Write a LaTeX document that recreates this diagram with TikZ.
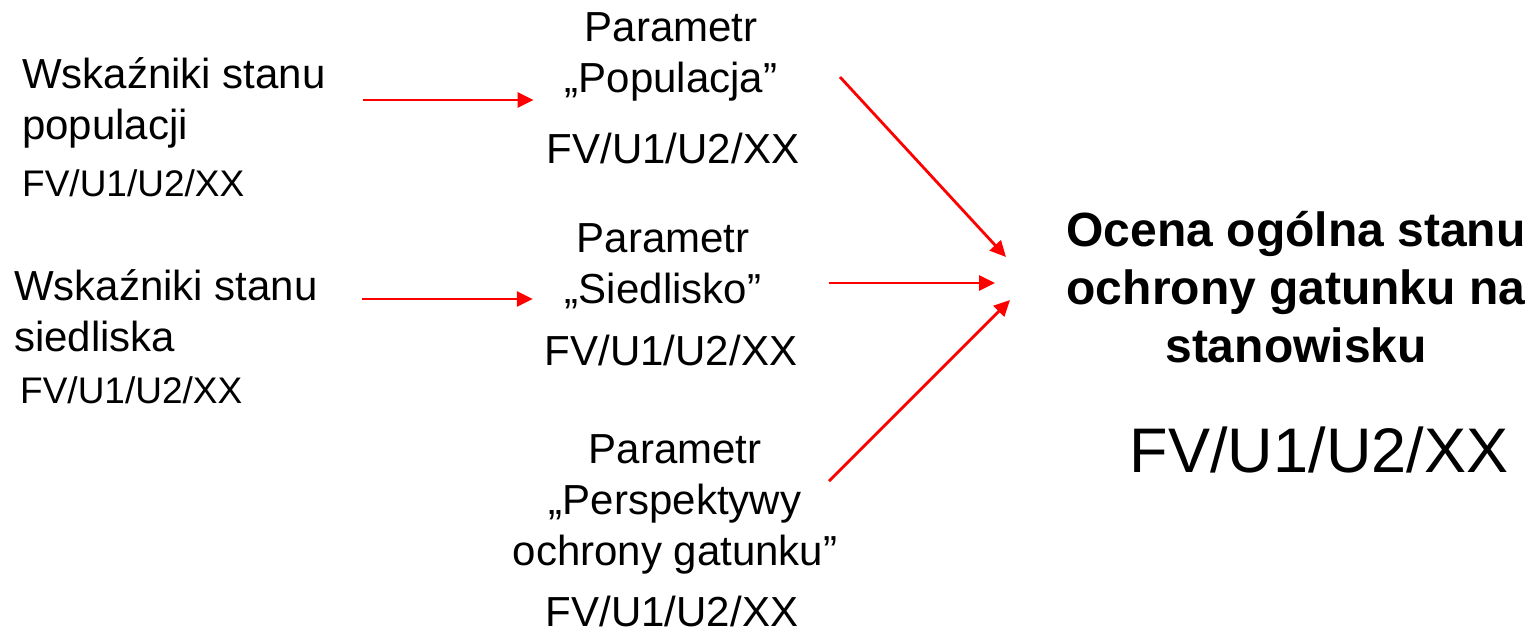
\documentclass[tikz,border=0pt]{standalone}
\usepackage{fontspec}
\setmainfont{Liberation Sans}
\usetikzlibrary{arrows.meta,positioning}
\tikzset{
    txt/.style = {inner sep=0pt, font=\fontsize{42}{51}\selectfont},
    small/.style = {inner sep=0pt, font=\fontsize{37}{44}\selectfont},
    result/.style = {inner sep=0pt, align=center, font=\fontsize{48}{58}\selectfont\bfseries},
    big/.style = {inner sep=0pt, font=\fontsize{63}{75}\selectfont},
    arr/.style = {draw=red, line width=2.8pt, -{Triangle[length=16pt,width=15pt]}},
}

\begin{document}
\begin{tikzpicture}[x=1pt, y=-1pt]
    \useasboundingbox (0,0) rectangle (1531,633);
    % indicators
    \node[txt, align=left, anchor=west] (wskpop) at (22,103) {Wskaźniki stanu\\populacji};
    \node[small, anchor=west] (fvpop) at (22,183) {FV/U1/U2/XX};
    \node[txt, align=left, anchor=west] (wsksied) at (14,311) {Wskaźniki stanu\\siedliska};
    \node[small, anchor=west] (fvsied) at (20,390) {FV/U1/U2/XX};

    % parameters
    \node[txt, align=center] (parpop) at (671,57) {Parametr\\„Populacja”};
    \node[txt] (fvparpop) at (673,148) {FV/U1/U2/XX};
    \node[txt, align=center] (parsied) at (663,266) {Parametr\\„Siedlisko”};
    \node[txt] (fvparsied) at (671,350) {FV/U1/U2/XX};
    \node[txt, align=center] (parpersp) at (675,504) {Parametr\\„Perspektywy\\ochrony gatunku”};
    \node[txt] (fvparpersp) at (672,611) {FV/U1/U2/XX};

    % overall assessment
    \node[result] (ocena) at (1296,287) {Ocena ogólna stanu\\ochrony gatunku na\\stanowisku};
    \node[big] (fvocena) at (1319,450) {FV/U1/U2/XX};

    \coordinate (in1) at (1006,257);
    \coordinate (in2) at (995,283);
    \coordinate (in3) at (1010,300);

    \draw[arr, shorten <=37pt, shorten >=31pt] (wskpop.east |- 0,100) -- (parpop.west |- 0,100);
    \draw[arr, shorten <=44pt, shorten >=32pt] (wsksied.east |- 0,299) -- (parsied.west |- 0,299);
    \draw[arr] (840,77) -- (in1);
    \draw[arr] (829,283) -- (in2);
    \draw[arr] (829,481) -- (in3);
\end{tikzpicture}
\end{document}
